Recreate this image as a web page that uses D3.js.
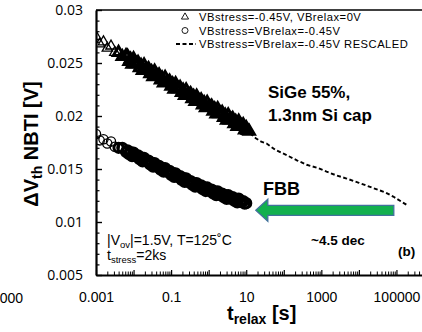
<!DOCTYPE html>
<html><head><meta charset="utf-8">
<script src="https://cdn.jsdelivr.net/npm/d3@7/dist/d3.min.js"></script>
<style>
html,body{margin:0;padding:0;background:#fff;}
svg{display:block;font-family:"Liberation Sans",Arial,sans-serif;}
</style></head><body>
<svg id="chart" width="422" height="332"></svg>
<script>
// relaxation times [s] of the measured points
const tRelax = [0.001,0.00126,0.00158,0.002,0.00251,0.00316,0.00398,0.00501,0.00631,
  0.006918,0.007586,0.008318,0.00912,
  0.01,0.01096,0.01202,0.01318,0.01445,0.01585,0.01738,0.01905,0.02089,0.02291,0.02512,0.02754,
  0.0302,0.03311,0.03631,0.03981,0.04365,0.04786,0.05248,0.05754,0.0631,0.06918,0.07586,0.08318,0.0912,
  0.1,0.1096,0.1202,0.1318,0.1445,0.1585,0.1738,0.1905,0.2089,0.2291,0.2512,0.2754,
  0.302,0.3311,0.3631,0.3981,0.4365,0.4786,0.5248,0.5754,0.631,0.6918,0.7586,0.8318,0.912,
  1,1.096,1.202,1.318,1.445,1.585,1.738,1.905,2.089,2.291,2.512,2.754,
  3.02,3.311,3.631,3.981,4.365,4.786,5.248,5.754,6.31,6.918,7.586,8.318,9.12,
  10,10.96,12.02];
// VBstress=-0.45V, VBrelax=0V
const dvthRelax0 = [0.0275,0.0268,0.0270,0.0264,0.0266,0.0260,0.0260,0.0256,0.0257,
  0.02564,0.02515,0.02537,0.02488,
  0.02540,0.02492,0.02493,0.02505,0.02456,0.02478,0.02430,0.02481,0.02433,0.02434,0.02446,0.02398,
  0.02419,0.02371,0.02422,0.02374,0.02376,0.02387,0.02339,0.02360,0.02312,0.02364,0.02315,0.02317,0.02328,
  0.02280,0.02302,0.02253,0.02305,0.02256,0.02258,0.02270,0.02221,0.02243,0.02194,0.02246,0.02198,
  0.02199,0.02211,0.02162,0.02184,0.02136,0.02187,0.02139,0.02140,0.02152,0.02104,0.02125,0.02077,0.02128,
  0.02080,0.02082,0.02093,0.02045,0.02066,0.02018,0.02070,0.02021,0.02023,0.02034,0.01986,0.02008,
  0.01959,0.02011,0.01962,0.01964,0.01976,0.01927,0.01949,0.01900,0.01952,0.01904,0.01905,0.01917,0.01868,
  0.01890,0.01862,0.01855];
// VBstress=VBrelax=-0.45V
const dvthRelaxFBB = [0.0183,0.0177,0.0178,0.0174,0.0176,0.0171,0.0170,0.0170,0.0166,
  0.01677,0.01640,0.01659,0.01622,
  0.01655,0.01623,0.01621,0.01629,0.01592,0.01609,0.01572,0.01605,0.01573,0.01571,0.01579,0.01542,
  0.01560,0.01523,0.01556,0.01524,0.01522,0.01530,0.01493,0.01511,0.01474,0.01508,0.01476,0.01474,0.01482,
  0.01445,0.01463,0.01426,0.01460,0.01428,0.01426,0.01434,0.01397,0.01416,0.01379,0.01412,0.01380,
  0.01378,0.01387,0.01351,0.01370,0.01334,0.01368,0.01337,0.01336,0.01345,0.01309,0.01328,0.01292,0.01326,
  0.01295,0.01295,0.01305,0.01269,0.01289,0.01254,0.01289,0.01259,0.01258,0.01268,0.01233,0.01253,
  0.01218,0.01253,0.01223,0.01224,0.01234,0.01200,0.01220,0.01185,0.01221,0.01191,0.01192,0.01197,0.01173,
  0.01178];
// VBstress=VBrelax=-0.45V, time axis rescaled
const tRescaled = [12.6,18,26,35,60,120,230,407,800,1380,2500,4730,10000,24000,50000,82000,190000];
const dvthRescaled = [0.01837,0.0179,0.01755,0.0174,0.0168,0.0163,0.0158,0.0154,0.0151,0.01475,
  0.0144,0.0141,0.0137,0.0132,0.0128,0.0124,0.0116];

const yTicks = [0.005,0.01,0.015,0.02,0.025,0.03];
const yTickLabels = ["0.005","0.01","0.015","0.02","0.025","0.03"];
const xTicks = [0.001,0.1,10,1000,100000];
const xTickLabels = ["0.001","0.1","10","1000","100000"];
const legendLabels = ["VBstress=-0.45V, VBrelax=0V","VBstress=VBrelax=-0.45V","VBstress=VBrelax=-0.45V RESCALED"];
// forward body bias shift arrow, from / to relaxation time, at this ΔVth level
const arrowFrom = 85000, arrowTo = 18, arrowLevel = 0.0111;

const svg = d3.select("#chart");
const x = d3.scaleLog().domain([1e-3, 1e6]).range([96, 434]);
const y = d3.scaleLinear().domain([0.005, 0.03]).range([275, 10]);

svg.append("clipPath").attr("id","plot").append("rect")
  .attr("x",96).attr("y",10).attr("width",338).attr("height",265);

// minor / major ticks
const minorY = y.ticks(25).filter(v => !yTicks.some(t => Math.abs(t - v) < 1e-9));
svg.append("g").attr("transform","translate(96,0)")
  .call(d3.axisLeft(y).tickValues(minorY).tickSize(-3.5).tickFormat(""))
  .call(g => g.select(".domain").remove())
  .call(g => g.selectAll("line").attr("stroke","#000").attr("stroke-width",1.2));
const minorX = [];
for (let e = -3; e < 6; e++) for (let m = 2; m <= 9; m++) minorX.push(m * Math.pow(10, e));
svg.append("g").attr("transform","translate(0,275)")
  .call(d3.axisBottom(x).tickValues(minorX).tickSize(-3.5).tickFormat(""))
  .call(g => g.select(".domain").remove())
  .call(g => g.selectAll("line").attr("stroke","#000").attr("stroke-width",1));
const decades = d3.range(-3, 7).map(e => Math.pow(10, e));
svg.append("g").attr("transform","translate(0,275)")
  .call(d3.axisBottom(x).tickValues(decades).tickSize(-5).tickFormat(""))
  .call(g => g.select(".domain").remove())
  .call(g => g.selectAll("line").attr("stroke","#000").attr("stroke-width",1.2));

const yAxis = svg.append("g").attr("transform","translate(96,0)")
  .call(d3.axisLeft(y).tickValues(yTicks).tickSize(-6).tickSizeOuter(0).tickPadding(13)
    .tickFormat((d,i) => yTickLabels[i]));
yAxis.select(".domain").attr("stroke","#000").attr("stroke-width",2.2);
yAxis.selectAll("line").attr("stroke","#000").attr("stroke-width",1.4);
yAxis.selectAll("text").attr("font-size",14).attr("fill","#000")
  .attr("font-family","'Open Sans','Liberation Sans',sans-serif");

const xAxis = svg.append("g").attr("transform","translate(0,275)")
  .call(d3.axisBottom(x).tickValues(xTicks).tickSize(0).tickSizeOuter(0).tickPadding(17)
    .tickFormat((d,i) => xTickLabels[i]));
xAxis.select(".domain").attr("stroke","#000").attr("stroke-width",2.2);
xAxis.selectAll("text").attr("font-size",14).attr("fill","#000");

// top frame line
svg.append("line").attr("x1",96).attr("x2",434).attr("y1",y(0.03)).attr("y2",y(0.03))
  .attr("stroke","#000").attr("stroke-width",1.5);

// axis of the neighbouring panel
svg.append("text").attr("x",23).attr("y",303).attr("text-anchor","end")
  .attr("font-size",14).text("100000");

const plot = svg.append("g").attr("clip-path","url(#plot)");

// rescaled curve
plot.append("path")
  .datum(tRescaled.map((t,i) => [t, dvthRescaled[i]]))
  .attr("fill","none").attr("stroke","#000").attr("stroke-width",1.9)
  .attr("stroke-dasharray","4,2.5")
  .attr("d", d3.line().x(d => x(d[0])).y(d => y(d[1])));

// open markers, heavier where the points crowd together
const heavy = i => i < 6 ? 1.3 : 3;
const tri = d3.symbol().type(d3.symbolTriangle).size(46);
plot.append("g").selectAll("path")
  .data(dvthRelax0.map((v,i) => [tRelax[i], v]))
  .join("path")
  .attr("transform", d => `translate(${x(d[0])},${y(d[1])})`)
  .attr("d", tri).attr("fill","none").attr("stroke","#000")
  .attr("stroke-width", (d,i) => heavy(i));

plot.append("g").selectAll("circle")
  .data(dvthRelaxFBB.map((v,i) => [tRelax[i], v]))
  .join("circle")
  .attr("cx", d => x(d[0])).attr("cy", d => y(d[1])).attr("r",4.6)
  .attr("fill","none").attr("stroke","#000")
  .attr("stroke-width", (d,i) => heavy(i));

// legend
const leg = svg.append("g").attr("font-size",11.2).attr("letter-spacing",0.5);
const rowY = [17, 30.5, 44];
leg.append("path").attr("transform",`translate(185,${rowY[0]})`)
  .attr("d", d3.symbol().type(d3.symbolTriangle).size(22))
  .attr("fill","none").attr("stroke","#000").attr("stroke-width",0.9);
leg.append("circle").attr("cx",185).attr("cy",rowY[1]).attr("r",3)
  .attr("fill","none").attr("stroke","#000").attr("stroke-width",0.9);
leg.append("line").attr("x1",176).attr("x2",196).attr("y1",rowY[2]).attr("y2",rowY[2])
  .attr("stroke","#000").attr("stroke-width",2).attr("stroke-dasharray","4,2.5");
legendLabels.forEach((s,i) => leg.append("text").attr("x",199).attr("y",rowY[i]+4).text(s));

// annotations
const ann = svg.append("g").attr("font-weight","bold").attr("fill","#000");
ann.append("text").attr("x",268).attr("y",98).attr("font-size",17).text("SiGe 55%,");
ann.append("text").attr("x",268).attr("y",121).attr("font-size",17).text("1.3nm Si cap");
ann.append("text").attr("x",263).attr("y",195).attr("font-size",18).text("FBB");
ann.append("text").attr("x",311).attr("y",245).attr("font-size",13.5).text("~4.5 dec");
ann.append("text").attr("x",398).attr("y",256).attr("font-size",13.5).text("(b)");

// green arrow
const ax0 = x(arrowTo), ax1 = x(arrowFrom), ay = y(arrowLevel);
const bh = 5, hh = 11, hl = 12;
svg.append("path")
  .attr("d", `M${ax0},${ay} L${ax0+hl},${ay-hh} L${ax0+hl},${ay-bh} L${ax1},${ay-bh}
    L${ax1},${ay+bh} L${ax0+hl},${ay+bh} L${ax0+hl},${ay+hh} Z`)
  .attr("fill","#12b04e").attr("stroke","#41719c").attr("stroke-width",1.3);

// measurement conditions
const cond = svg.append("g").attr("font-size",14).attr("fill","#000");
const c1 = cond.append("text").attr("x",107).attr("y",245);
c1.append("tspan").text("|V");
c1.append("tspan").attr("font-size",9.5).attr("dy",3).text("ov");
c1.append("tspan").attr("dy",-3).text("|=1.5V, T=125˚C");
const c2 = cond.append("text").attr("x",107).attr("y",260);
c2.append("tspan").text("t");
c2.append("tspan").attr("font-size",9.5).attr("dy",3).text("stress");
c2.append("tspan").attr("dy",-3).text("=2ks");

// axis titles
const yl = svg.append("text").attr("transform","translate(38,144) rotate(-90)")
  .attr("text-anchor","middle").attr("font-weight","bold").attr("font-size",20);
yl.append("tspan").text("ΔV");
yl.append("tspan").attr("font-size",14).attr("dy",4).text("th");
yl.append("tspan").attr("dy",-4).text(" NBTI [V]");

const xl = svg.append("text").attr("x",227).attr("y",320)
  .attr("font-weight","bold").attr("font-size",20);
xl.append("tspan").text("t");
xl.append("tspan").attr("font-size",14).attr("dy",4).text("relax");
xl.append("tspan").attr("dy",-4).text(" [s]");
</script>
</body></html>
